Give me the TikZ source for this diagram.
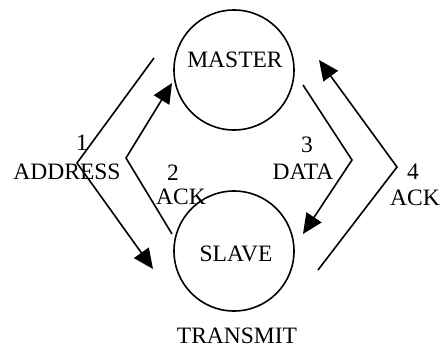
\documentclass[tikz,border=0pt]{standalone}
\usepackage{fontspec}
\setmainfont{Liberation Serif}
\usetikzlibrary{arrows.meta}
\begin{document}
\begin{tikzpicture}[x=1pt,y=-1pt,
  circ/.style={draw,circle,line width=1.6pt,minimum size=120pt,inner sep=0pt},
  lbl/.style={inner sep=0pt,font=\fontsize{23.5}{28}\selectfont},
  conn/.style={line width=1.6pt,-{Triangle[length=20pt,width=18pt]}}]
\useasboundingbox (0,0) rectangle (440,348);
\node[circ] (master) at (234,70) {};
\node[circ] (slave) at (234,251) {};
\node[lbl] (mtext) at (235,60) {MASTER};
\node[lbl] (stext) at (236,254) {SLAVE};
\node[lbl] (trans) at (237,336) {TRANSMIT};
% connector endpoints
\coordinate (s1) at (154,58);  \coordinate (k1) at (77,163);  \coordinate (t1) at (153,269);
\coordinate (s2) at (172,234); \coordinate (k2) at (126,158); \coordinate (t2) at (172,83);
\coordinate (s3) at (303,85);  \coordinate (k3) at (352,160); \coordinate (t3) at (303,234);
\coordinate (s4) at (318,270); \coordinate (k4) at (397,167); \coordinate (t4) at (319,60);
\draw[conn] (s1) -- (k1) -- (t1);
\draw[conn] (s2) -- (k2) -- (t2);
\draw[conn] (s3) -- (k3) -- (t3);
\draw[conn] (s4) -- (k4) -- (t4);
% labels
\node[lbl] (n1) at (82,143) {1};
\node[lbl] (l1) at (67,172) {ADDRESS};
\node[lbl] (n2) at (173,173) {2};
\node[lbl] (l2) at (181,197) {ACK};
\node[lbl] (n3) at (307,145) {3};
\node[lbl] (l3) at (303,172) {DATA};
\node[lbl] (n4) at (413,172) {4};
\node[lbl] (l4) at (415,198) {ACK};
\end{tikzpicture}
\end{document}
